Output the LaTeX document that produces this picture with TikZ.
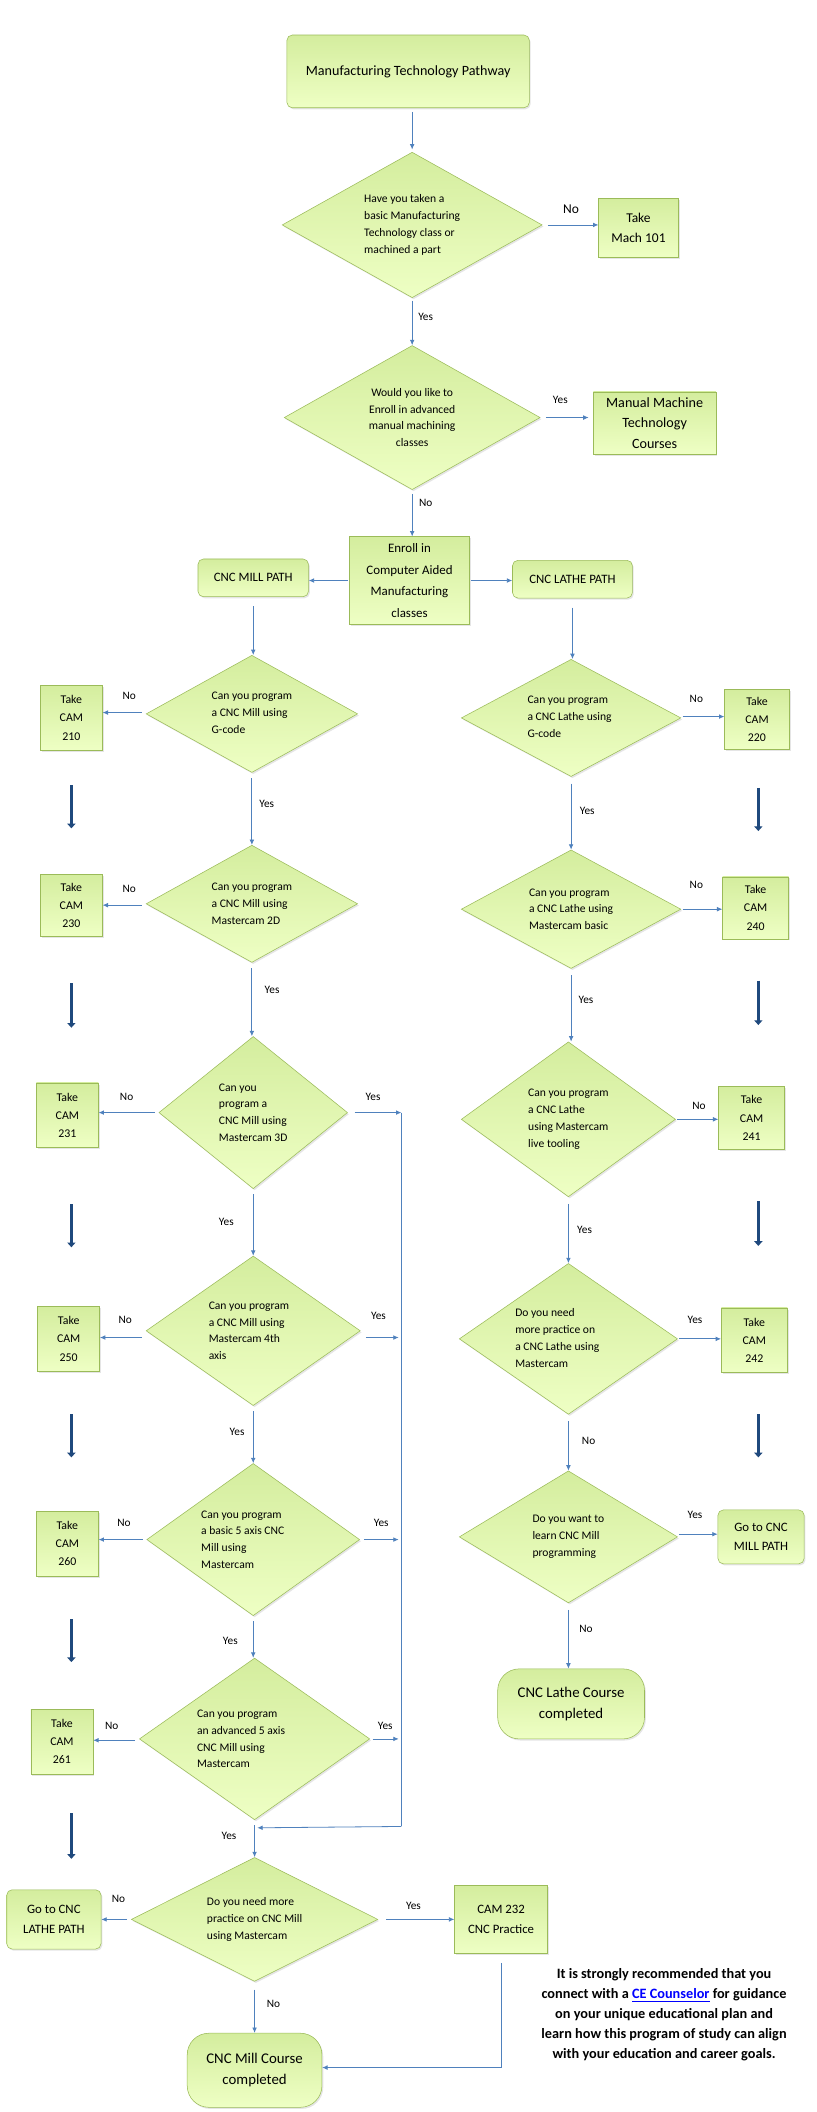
\documentclass[tikz,border=0pt]{standalone}
\usepackage{fontspec}
\setmainfont{Carlito}
\usetikzlibrary{shapes.geometric,arrows.meta,shadows}
\definecolor{bd}{RGB}{155,187,89}
\definecolor{ar}{RGB}{79,129,189}
\definecolor{tk}{RGB}{31,73,125}
\newcommand\dmd[6][left]{%
 \node[dia,minimum width=#4,minimum height=#5] (#2) at (#3) {};
 \node[align=#1,font=\fontsize{8.6}{12.5}\selectfont,inner sep=0pt] (#2t) at (#3) {#6};}
\begin{document}
\begin{tikzpicture}[x=1pt,y=-1pt,
 g/.style={draw=bd,top color={rgb,255:red,212;green,237;blue,158},bottom color={rgb,255:red,238;green,255;blue,196},drop shadow={opacity=0.2,shadow xshift=1pt,shadow yshift=-1.2pt}},
 box/.style={g,rectangle,inner sep=1pt,align=center,font=\fontsize{8.8}{13.5}\selectfont},
 rbox/.style={box,rounded corners=4pt},
 dia/.style={g,diamond,inner sep=0pt},
 a/.style={draw=ar,line width=0.6pt,-{Latex[length=4pt,width=3.5pt]}},
 ln/.style={draw=ar,line width=0.6pt},
 tka/.style={draw=tk,line width=2.4pt,-{Triangle[length=3.5pt,width=6pt]}},
 lb/.style={font=\fontsize{8.4}{9}\selectfont}]
\useasboundingbox (0,0) rectangle (606,1568);
\fill[white] (0,0) rectangle (606,1568);
% top
\node[rbox,minimum width=180,minimum height=54,font=\fontsize{10.5}{12}\selectfont] (top) at (303,53) {Manufacturing Technology Pathway};
\dmd{d1}{306,167}{193}{108}{Have you taken a\\basic Manufacturing\\Technology class or\\machined a part}
\node[box,minimum width=59,minimum height=44,font=\fontsize{10}{15}\selectfont] (mach) at (474,169) {Take\\Mach 101};
\dmd[center]{d2}{306,310}{190}{107}{Would you like to\\Enroll in advanced\\manual machining\\classes}
\node[box,minimum width=91,minimum height=46,font=\fontsize{10.5}{15}\selectfont] (man) at (486,314) {Manual Machine\\Technology\\Courses};
\node[box,minimum width=89,minimum height=65,font=\fontsize{9.6}{16.3}\selectfont] (enr) at (304,431) {Enroll in\\Computer Aided\\Manufacturing\\classes};
\node[rbox,minimum width=82,minimum height=28,font=\fontsize{9.5}{12}\selectfont] (mp) at (188,429) {CNC MILL PATH};
\node[rbox,minimum width=89,minimum height=28,font=\fontsize{9.5}{12}\selectfont] (lp) at (425,430) {CNC LATHE PATH};
\draw[a] (306,83) coordinate (tb) -- (306,111);
\draw[a] (d1.east)++(4,0) coordinate (d1e) -- (mach.west|-d1e);
\node[lb,font=\fontsize{10}{10}\selectfont] (ln1) at (424,155) {No};
\draw[a] (d1.south)++(0,2) coordinate (d1s) -- (d2.north);
\node[lb] (ly1) at (316,235) {Yes};
\draw[a] (d2.east)++(4,0) coordinate (d2e) -- (437,310);
\node[lb] (ly2) at (416,297) {Yes};
\draw[a] (d2.south)++(0,3) coordinate (d2s) -- (d2s|-enr.north);
\node[lb] (ln2) at (316,373) {No};
\draw[a] (enr.west)++(-1,0) coordinate (ew) -- (mp.east|-ew);
\draw[a] (enr.east)++(1,0) coordinate (ee) -- (lp.west|-ee);
% mill column
\dmd{m1}{187,530}{157}{87}{Can you program\\a CNC Mill using\\G-code\phantom{Mill using}}
\dmd{m2}{187,671}{157}{87}{Can you program\\a CNC Mill using\\Mastercam 2D}
\dmd{m3}{188,826}{140}{113}{Can you\\program a\\CNC Mill using\\Mastercam 3D}
\dmd{m4}{188,988}{159}{111}{Can you program\\a CNC Mill using\\Mastercam 4th\\axis\phantom{Mastercam 4th}}
\dmd{m5}{188,1143}{158}{113}{Can you program\\a basic 5 axis CNC\\Mill using\\Mastercam\phantom{ 5 axis CNC}}
\dmd{m6}{189,1291}{171}{120}{Can you program\\an advanced 5 axis\\CNC Mill using\\Mastercam\phantom{vanced 5 axis}}
\dmd{m7}{189,1425}{183}{92}{Do you need more\\practice on CNC Mill\\using Mastercam}
\node[box,minimum width=46,minimum height=48] (c210) at (53,533) {Take\\CAM\\210};
\node[box,minimum width=46,minimum height=46] (c230) at (53,672) {Take\\CAM\\230};
\node[box,minimum width=46,minimum height=48] (c231) at (50,828) {Take\\CAM\\231};
\node[box,minimum width=46,minimum height=48] (c250) at (51,994) {Take\\CAM\\250};
\node[box,minimum width=46,minimum height=48] (c260) at (50,1146) {Take\\CAM\\260};
\node[box,minimum width=46,minimum height=48] (c261) at (46,1293) {Take\\CAM\\261};
\node[rbox,minimum width=70,minimum height=44,font=\fontsize{9.5}{14.5}\selectfont] (gl) at (40,1425) {Go to CNC\\LATHE PATH};
\node[box,minimum width=69,minimum height=50,font=\fontsize{9.5}{14.5}\selectfont] (c232) at (372,1425) {CAM 232\\CNC Practice};
\node[rbox,minimum width=100,minimum height=55,rounded corners=16pt,font=\fontsize{11}{16}\selectfont] (mc) at (189,1537) {CNC Mill Course\\completed};
\draw[a] (mp.south)++(0,7) coordinate (mps) -- (mps|-m1.north);
\foreach \d/\c/\y in {m1/c210/529,m2/c230/672,m3/c231/826,m4/c250/993,m5/c260/1143,m6/c261/1292,m7/gl/1425} {
  \draw[a] (\d.west|-0,\y)++(-3,0) coordinate (t\d) -- (\c.east|-0,\y);
}
\node[lb] (n1) at (96,517) {No};
\node[lb] (n2) at (96,660) {No};
\node[lb] (n3) at (94,814) {No};
\node[lb] (n4) at (93,980) {No};
\node[lb] (n5) at (92,1131) {No};
\node[lb] (n6) at (83,1281) {No};
\node[lb] (n7) at (88,1410) {No};
\foreach \u/\l in {m1/m2,m2/m3,m3/m4,m4/m5,m5/m6,m6/m7} {
  \draw[a] (\u.south)++(0,4) coordinate (s\u) -- (s\u|-\l.north);
}
\node[lb] (y1) at (198,597) {Yes};
\node[lb] (y2) at (202,735) {Yes};
\node[lb] (y3) at (168,907) {Yes};
\node[lb] (y4) at (176,1063) {Yes};
\node[lb] (y5) at (171,1218) {Yes};
\node[lb] (y6) at (170,1363) {Yes};
\coordinate (vt) at (298,826);
\coordinate (vb) at (298,1356);
\draw[a] (m3.east)++(5,0) coordinate (e3) -- (vt);
\draw[a] (m4.east)++(4,5) coordinate (e4) -- (296,993);
\draw[a] (m5.east)++(3,0) coordinate (e5) -- (296,1143);
\draw[a] (m6.east)++(2,0) coordinate (e6) -- (296,1291);
\node[lb] (yr3) at (277,814) {Yes};
\node[lb] (yr4) at (281,977) {Yes};
\node[lb] (yr5) at (283,1131) {Yes};
\node[lb] (yr6) at (286,1281) {Yes};
\draw[ln] (vt) -- (vb);
\draw[a] (vb) -- (191,1357);
\draw[a] (m7.east)++(6,0) coordinate (e7) -- (c232.west|-e7);
\node[lb] (y7) at (307,1415) {Yes};
\draw[a] (m7.south)++(0,6) coordinate (s7) -- (s7|-mc.north);
\node[lb] (n8) at (203,1488) {No};
\coordinate (cb) at (372,1535);
\draw[ln] (c232.south)++(0,7) coordinate (c2s) -- (cb);
\draw[a] (cb) -- (mc.east|-cb);
% thick arrows left
\foreach \u/\v in {583/615,730/763,894/926,1050/1082,1202/1234,1346/1380} {\draw[tka] (53,\u) -- (53,\v);}
% lathe column
\dmd{l1}{424,533}{163}{87}{Can you program\\a CNC Lathe using\\G-code\phantom{Lathe using}}
\dmd{l2}{424,675}{163}{88}{Can you program\\a CNC Lathe using\\Mastercam basic}
\dmd{l3}{422,831}{159}{115}{Can you program\\a CNC Lathe\\using Mastercam\\live tooling\phantom{ster}}
\dmd{l4}{422,994}{162}{112}{Do you need\\more practice on\\a CNC Lathe using\\Mastercam\phantom{Lathe using}}
\dmd{l5}{422,1141}{162}{98}{Do you want to\\learn CNC Mill\\programming}
\node[box,minimum width=48,minimum height=44] (c220) at (562,534) {Take\\CAM\\220};
\node[box,minimum width=49,minimum height=46] (c240) at (561,674) {Take\\CAM\\240};
\node[box,minimum width=49,minimum height=47] (c241) at (558,830) {Take\\CAM\\241};
\node[box,minimum width=49,minimum height=48] (c242) at (560,995) {Take\\CAM\\242};
\node[rbox,minimum width=64,minimum height=40,font=\fontsize{9.5}{14}\selectfont] (gm) at (565,1141) {Go to CNC\\MILL PATH};
\node[rbox,minimum width=109,minimum height=52,rounded corners=16pt,font=\fontsize{11}{16}\selectfont] (lc) at (424,1265) {CNC Lathe Course\\completed};
\draw[a] (lp.south)++(0,7) coordinate (lps) -- (lps|-l1.north);
\foreach \d/\c/\y in {l1/c220/532,l2/c240/675,l3/c241/831,l4/c242/994,l5/gm/1139} {
  \draw[a] (\d.east|-0,\y)++(1,0) coordinate (r\d) -- (\c.west|-0,\y);
}
\node[lb] (ln1r) at (517,519) {No};
\node[lb] (ln2r) at (517,657) {No};
\node[lb] (ln3r) at (519,821) {No};
\node[lb] (ly4r) at (516,980) {Yes};
\node[lb] (ly5r) at (516,1125) {Yes};
\foreach \u/\l in {l1/l2,l2/l3,l3/l4,l4/l5,l5/lc} {
  \draw[a] (\u.south)++(0,5) coordinate (q\u) -- (q\u|-\l.north);
}
\node[lb] (ly1r) at (436,602) {Yes};
\node[lb] (ly2r) at (435,742) {Yes};
\node[lb] (ly3r) at (434,913) {Yes};
\node[lb] (ln4r) at (437,1070) {No};
\node[lb] (ln5r) at (435,1209) {No};
\foreach \u/\v in {585/617,728/761,892/925,1050/1082} {\draw[tka] (563,\u) -- (563,\v);}
% note
\node[align=center,font=\bfseries\fontsize{10.6}{14.8}\selectfont] (note) at (493,1496) {It is strongly recommended that you\\connect with a \textcolor{blue}{\underline{CE Counselor}} for guidance\\on your unique educational plan and\\learn how this program of study can align\\with your education and career goals.};
\end{tikzpicture}
\end{document}
